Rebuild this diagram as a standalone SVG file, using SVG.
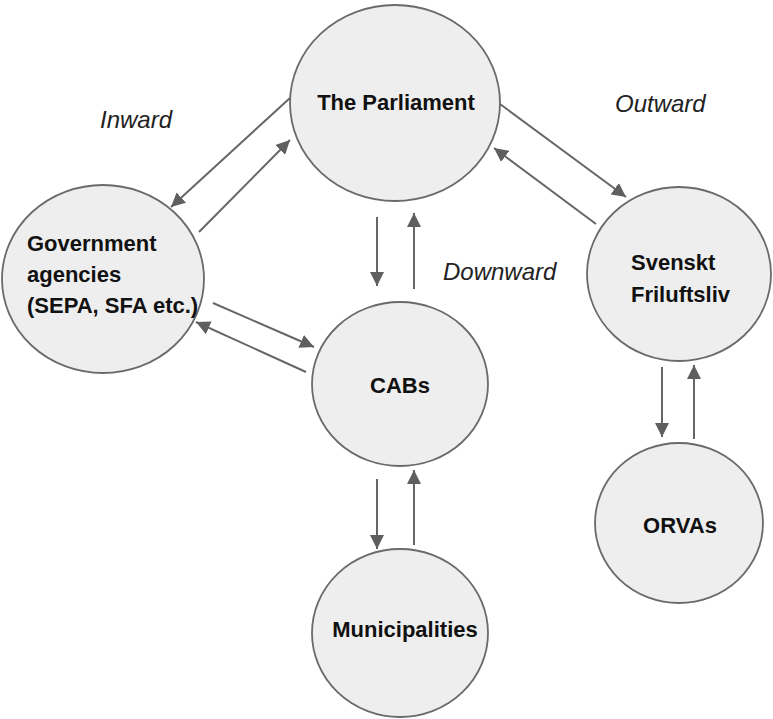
<svg xmlns="http://www.w3.org/2000/svg" width="773" height="719" viewBox="0 0 773 719">
  <defs>
    <marker id="arrow" viewBox="0 0 10 10" refX="10" refY="5" markerWidth="7" markerHeight="7" markerUnits="strokeWidth" orient="auto">
      <path d="M0,0 L10,5 L0,10 z" fill="#5f5f5f"/>
    </marker>
    <style>
      .node { fill: #eeeeee; stroke: #6a6a6a; stroke-width: 1.8; }
      .label { font-family: "Liberation Sans", Arial, sans-serif; font-weight: bold; font-size: 22px; fill: #111111; }
      .flow { font-family: "Liberation Sans", Arial, sans-serif; font-style: italic; font-size: 24px; fill: #222222; }
      .conn line { stroke: #666666; stroke-width: 2; marker-end: url(#arrow); }
    </style>
  </defs>
  <rect width="773" height="719" fill="#ffffff"/>

  <!-- Direction labels -->
  <g id="direction-labels">
    <text class="flow" x="100" y="128">Inward</text>
    <text class="flow" x="615" y="112">Outward</text>
    <text class="flow" x="443" y="280">Downward</text>
  </g>

  <!-- Nodes -->
  <g id="parliament">
    <ellipse class="node" cx="395" cy="103" rx="105" ry="98"/>
    <text class="label" x="396" y="110" text-anchor="middle">The Parliament</text>
  </g>
  <g id="government-agencies">
    <ellipse class="node" cx="103" cy="279" rx="101" ry="94"/>
    <text class="label" x="27" y="251">Government</text>
    <text class="label" x="27" y="282">agencies</text>
    <text class="label" x="27" y="313">(SEPA, SFA etc.)</text>
  </g>
  <g id="cabs">
    <ellipse class="node" cx="400" cy="384" rx="88" ry="82"/>
    <text class="label" x="400" y="393" text-anchor="middle">CABs</text>
  </g>
  <g id="municipalities">
    <ellipse class="node" cx="400" cy="633" rx="88" ry="84"/>
    <text class="label" x="405" y="637" text-anchor="middle">Municipalities</text>
  </g>
  <g id="svenskt-friluftsliv">
    <ellipse class="node" cx="679" cy="274" rx="92" ry="87"/>
    <text class="label" x="631" y="270">Svenskt</text>
    <text class="label" x="631" y="302">Friluftsliv</text>
  </g>
  <g id="orvas">
    <ellipse class="node" cx="679" cy="523" rx="84" ry="80"/>
    <text class="label" x="680" y="533" text-anchor="middle">ORVAs</text>
  </g>

  <!-- Connectors -->
  <g id="connectors" class="conn">
    <line x1="290" y1="98" x2="171" y2="207"/>
    <line x1="199" y1="232" x2="290" y2="140"/>
    <line x1="213" y1="303" x2="314" y2="347"/>
    <line x1="306" y1="372" x2="196" y2="322"/>
    <line x1="377" y1="217" x2="377" y2="286"/>
    <line x1="414" y1="289" x2="414" y2="213"/>
    <line x1="500" y1="104" x2="626" y2="197"/>
    <line x1="596" y1="224" x2="494" y2="148"/>
    <line x1="377" y1="479" x2="377" y2="549"/>
    <line x1="414" y1="545" x2="414" y2="470"/>
    <line x1="662" y1="367" x2="662" y2="437"/>
    <line x1="694" y1="439" x2="694" y2="365"/>
  </g>
</svg>
